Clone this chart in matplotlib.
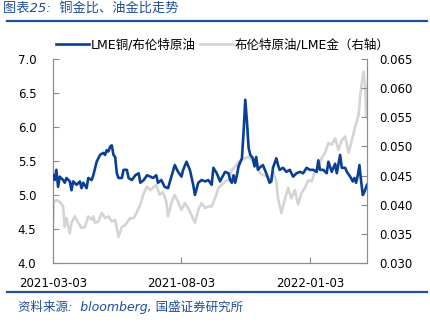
import pandas as pd
import matplotlib.pyplot as plt
import matplotlib.dates as mdates
from matplotlib.lines import Line2D

plt.rcParams['font.family'] = ['DejaVu Sans', 'Noto Sans CJK SC']

# LME铜/布伦特原油 (left axis)
cu_dates = ['2021-03-03', '2021-03-05', '2021-03-07', '2021-03-09', '2021-03-11', '2021-03-15',
            '2021-03-17', '2021-03-19', '2021-03-23', '2021-03-25', '2021-03-27', '2021-03-31',
            '2021-04-04', '2021-04-06', '2021-04-08', '2021-04-12', '2021-04-14', '2021-04-18',
            '2021-04-20', '2021-04-24', '2021-04-28', '2021-05-02', '2021-05-04', '2021-05-06',
            '2021-05-08', '2021-05-10', '2021-05-12', '2021-05-14', '2021-05-16', '2021-05-18',
            '2021-05-20', '2021-05-24', '2021-05-26', '2021-05-30', '2021-06-01', '2021-06-05',
            '2021-06-09', '2021-06-13', '2021-06-15', '2021-06-19', '2021-06-23', '2021-06-27',
            '2021-06-30', '2021-07-04', '2021-07-06', '2021-07-10', '2021-07-14', '2021-07-18',
            '2021-07-22', '2021-07-26', '2021-07-30', '2021-08-03', '2021-08-05', '2021-08-09',
            '2021-08-13', '2021-08-17', '2021-08-19', '2021-08-23', '2021-08-27', '2021-08-31',
            '2021-09-04', '2021-09-08', '2021-09-10', '2021-09-14', '2021-09-18', '2021-09-20',
            '2021-09-24', '2021-09-28', '2021-09-30', '2021-10-02', '2021-10-04', '2021-10-06',
            '2021-10-08', '2021-10-10', '2021-10-14', '2021-10-16', '2021-10-18', '2021-10-20',
            '2021-10-22', '2021-10-24', '2021-10-27', '2021-10-29', '2021-10-31', '2021-11-02',
            '2021-11-04', '2021-11-08', '2021-11-12', '2021-11-16', '2021-11-18', '2021-11-20',
            '2021-11-24', '2021-11-26', '2021-11-28', '2021-12-02', '2021-12-06', '2021-12-10',
            '2021-12-14', '2021-12-18', '2021-12-22', '2021-12-26', '2021-12-30', '2022-01-03',
            '2022-01-07', '2022-01-11', '2022-01-13', '2022-01-15', '2022-01-19', '2022-01-23',
            '2022-01-25', '2022-01-29', '2022-02-02', '2022-02-04', '2022-02-08', '2022-02-10',
            '2022-02-14', '2022-02-16', '2022-02-20', '2022-02-23', '2022-02-25', '2022-02-27',
            '2022-03-01', '2022-03-03', '2022-03-05', '2022-03-07', '2022-03-09', '2022-03-12']
cu_oil = [5.29, 5.22, 5.37, 5.12, 5.27, 5.22,
          5.18, 5.25, 5.20, 5.07, 5.20, 5.15,
          5.20, 5.10, 5.18, 5.10, 5.25, 5.22,
          5.29, 5.49, 5.59, 5.62, 5.59, 5.66,
          5.64, 5.71, 5.73, 5.59, 5.56, 5.32,
          5.25, 5.25, 5.37, 5.37, 5.25, 5.22,
          5.29, 5.32, 5.18, 5.22, 5.29, 5.27,
          5.25, 5.29, 5.18, 5.22, 5.12, 5.10,
          5.27, 5.44, 5.34, 5.27, 5.37, 5.49,
          5.37, 5.15, 5.00, 5.18, 5.22, 5.20,
          5.22, 5.15, 5.40, 5.32, 5.20, 5.25,
          5.34, 5.32, 5.22, 5.18, 5.29, 5.18,
          5.29, 5.42, 5.54, 5.93, 6.40, 6.08,
          5.69, 5.59, 5.54, 5.42, 5.56, 5.37,
          5.40, 5.44, 5.32, 5.18, 5.20, 5.40,
          5.54, 5.44, 5.37, 5.40, 5.34, 5.37,
          5.27, 5.32, 5.34, 5.32, 5.40, 5.37,
          5.37, 5.34, 5.51, 5.37, 5.37, 5.32,
          5.49, 5.34, 5.46, 5.32, 5.59, 5.40,
          5.40, 5.34, 5.27, 5.20, 5.25, 5.18,
          5.29, 5.44, 5.20, 5.00, 5.05, 5.15]

# 布伦特原油/LME金 (right axis)
oil_dates = ['2021-03-03', '2021-03-04', '2021-03-07', '2021-03-11', '2021-03-15', '2021-03-17',
             '2021-03-19', '2021-03-23', '2021-03-25', '2021-03-29', '2021-04-02', '2021-04-06',
             '2021-04-10', '2021-04-14', '2021-04-18', '2021-04-20', '2021-04-22', '2021-04-26',
             '2021-04-30', '2021-05-04', '2021-05-08', '2021-05-12', '2021-05-16', '2021-05-20',
             '2021-05-24', '2021-05-28', '2021-06-03', '2021-06-07', '2021-06-11', '2021-06-15',
             '2021-06-19', '2021-06-23', '2021-06-27', '2021-06-30', '2021-07-04', '2021-07-08',
             '2021-07-12', '2021-07-16', '2021-07-18', '2021-07-22', '2021-07-26', '2021-07-30',
             '2021-08-03', '2021-08-07', '2021-08-11', '2021-08-15', '2021-08-19', '2021-08-23',
             '2021-08-27', '2021-08-31', '2021-09-04', '2021-09-08', '2021-09-12', '2021-09-16',
             '2021-09-20', '2021-09-24', '2021-09-28', '2021-10-02', '2021-10-06', '2021-10-10',
             '2021-10-14', '2021-10-18', '2021-10-22', '2021-10-26', '2021-10-29', '2021-10-31',
             '2021-11-04', '2021-11-08', '2021-11-12', '2021-11-16', '2021-11-20', '2021-11-24',
             '2021-11-26', '2021-11-30', '2021-12-04', '2021-12-08', '2021-12-12', '2021-12-16',
             '2021-12-20', '2021-12-24', '2021-12-28', '2022-01-01', '2022-01-05', '2022-01-09',
             '2022-01-13', '2022-01-17', '2022-01-21', '2022-01-25', '2022-01-29', '2022-02-02',
             '2022-02-06', '2022-02-10', '2022-02-14', '2022-02-18', '2022-02-22', '2022-02-26',
             '2022-03-02', '2022-03-04', '2022-03-06', '2022-03-08', '2022-03-10', '2022-03-11',
             '2022-03-12']
oil_gold = [0.0371, 0.0405, 0.0408, 0.0405, 0.0397, 0.0362,
            0.0377, 0.0351, 0.0369, 0.0380, 0.0369, 0.0360,
            0.0362, 0.0380, 0.0374, 0.0380, 0.0369, 0.0371,
            0.0386, 0.0377, 0.0380, 0.0371, 0.0374, 0.0345,
            0.0362, 0.0365, 0.0377, 0.0377, 0.0388, 0.0400,
            0.0420, 0.0431, 0.0425, 0.0429, 0.0434, 0.0417,
            0.0422, 0.0405, 0.0380, 0.0403, 0.0417, 0.0405,
            0.0391, 0.0403, 0.0394, 0.0382, 0.0369, 0.0391,
            0.0403, 0.0394, 0.0397, 0.0397, 0.0411, 0.0429,
            0.0434, 0.0440, 0.0442, 0.0460, 0.0465, 0.0474,
            0.0477, 0.0480, 0.0482, 0.0477, 0.0470, 0.0478,
            0.0455, 0.0451, 0.0449, 0.0442, 0.0457, 0.0440,
            0.0411, 0.0386, 0.0408, 0.0429, 0.0411, 0.0425,
            0.0400, 0.0420, 0.0429, 0.0442, 0.0440, 0.0457,
            0.0463, 0.0480, 0.0489, 0.0506, 0.0503, 0.0514,
            0.0494, 0.0511, 0.0517, 0.0489, 0.0511, 0.0534,
            0.0554, 0.0588, 0.0611, 0.0628, 0.0600, 0.0551,
            0.0572]

tick_dates = ['2021-03-03', '2021-08-03', '2022-01-03']

cu_x = pd.to_datetime(cu_dates)
oil_x = pd.to_datetime(oil_dates)

blue = '#0a3f96'
gray = '#d4d4d4'
axis_c = '#8c8c8c'
title_c = '#1f4e9c'

fig = plt.figure(figsize=(4.3, 3.23), dpi=100)
ax = fig.add_axes([0.1233, 0.1858, 0.7302, 0.6315])
ax2 = ax.twinx()

ax2.plot(oil_x, oil_gold, color=gray, lw=1.9, zorder=1)
ax.plot(cu_x, cu_oil, color=blue, lw=1.9, zorder=3)
ax.set_zorder(ax2.get_zorder() + 1)
ax.patch.set_visible(False)

ax.set_ylim(4.0, 7.0)
ax.set_yticks([4.0, 4.5, 5.0, 5.5, 6.0, 6.5, 7.0])
ax.set_yticklabels(['%.1f' % v for v in ax.get_yticks()])
ax2.set_ylim(0.030, 0.065)
ax2.set_yticks([0.030, 0.035, 0.040, 0.045, 0.050, 0.055, 0.060, 0.065])
ax2.set_yticklabels(['%.3f' % v for v in ax2.get_yticks()])

ax.set_xlim(pd.Timestamp('2021-03-03'), pd.Timestamp('2022-03-12'))
ax.set_xticks(pd.to_datetime(tick_dates))
ax.xaxis.set_major_formatter(mdates.DateFormatter('%Y-%m-%d'))

for a in (ax, ax2):
    for s in a.spines.values():
        s.set_color(axis_c)
        s.set_linewidth(0.8)
    a.spines['top'].set_visible(False)
    a.tick_params(direction='in', length=4, width=0.8, color=axis_c, labelsize=8.5, labelcolor='black')
ax.tick_params(axis='y', pad=12)
ax2.tick_params(axis='y', pad=9)
ax.tick_params(axis='x', pad=10)

handles = [Line2D([], [], color=blue, lw=1.9), Line2D([], [], color=gray, lw=1.9)]
fig.legend(handles, ['LME铜/布伦特原油', '布伦特原油/LME金（右轴）'], loc='center left',
           bbox_to_anchor=(0.105, 0.861), ncol=2, frameon=False, fontsize=9,
           handlelength=2.6, handletextpad=0.15, columnspacing=0.35)

fig.text(0.006, 0.975, '图表25:  铜金比、油金比走势', color=title_c, fontsize=9.5,
         style='italic', va='center', ha='left')
fig.add_artist(Line2D([0.016, 0.993], [0.935, 0.935], color=title_c, lw=1.6))
fig.add_artist(Line2D([0.016, 0.993], [0.096, 0.096], color=title_c, lw=1.6))
fig.text(0.042, 0.0495, '资料来源:  bloomberg, 国盛证券研究所', color=title_c, fontsize=9,
         style='italic', va='center', ha='left')

fig.savefig('out.png', dpi=100)
